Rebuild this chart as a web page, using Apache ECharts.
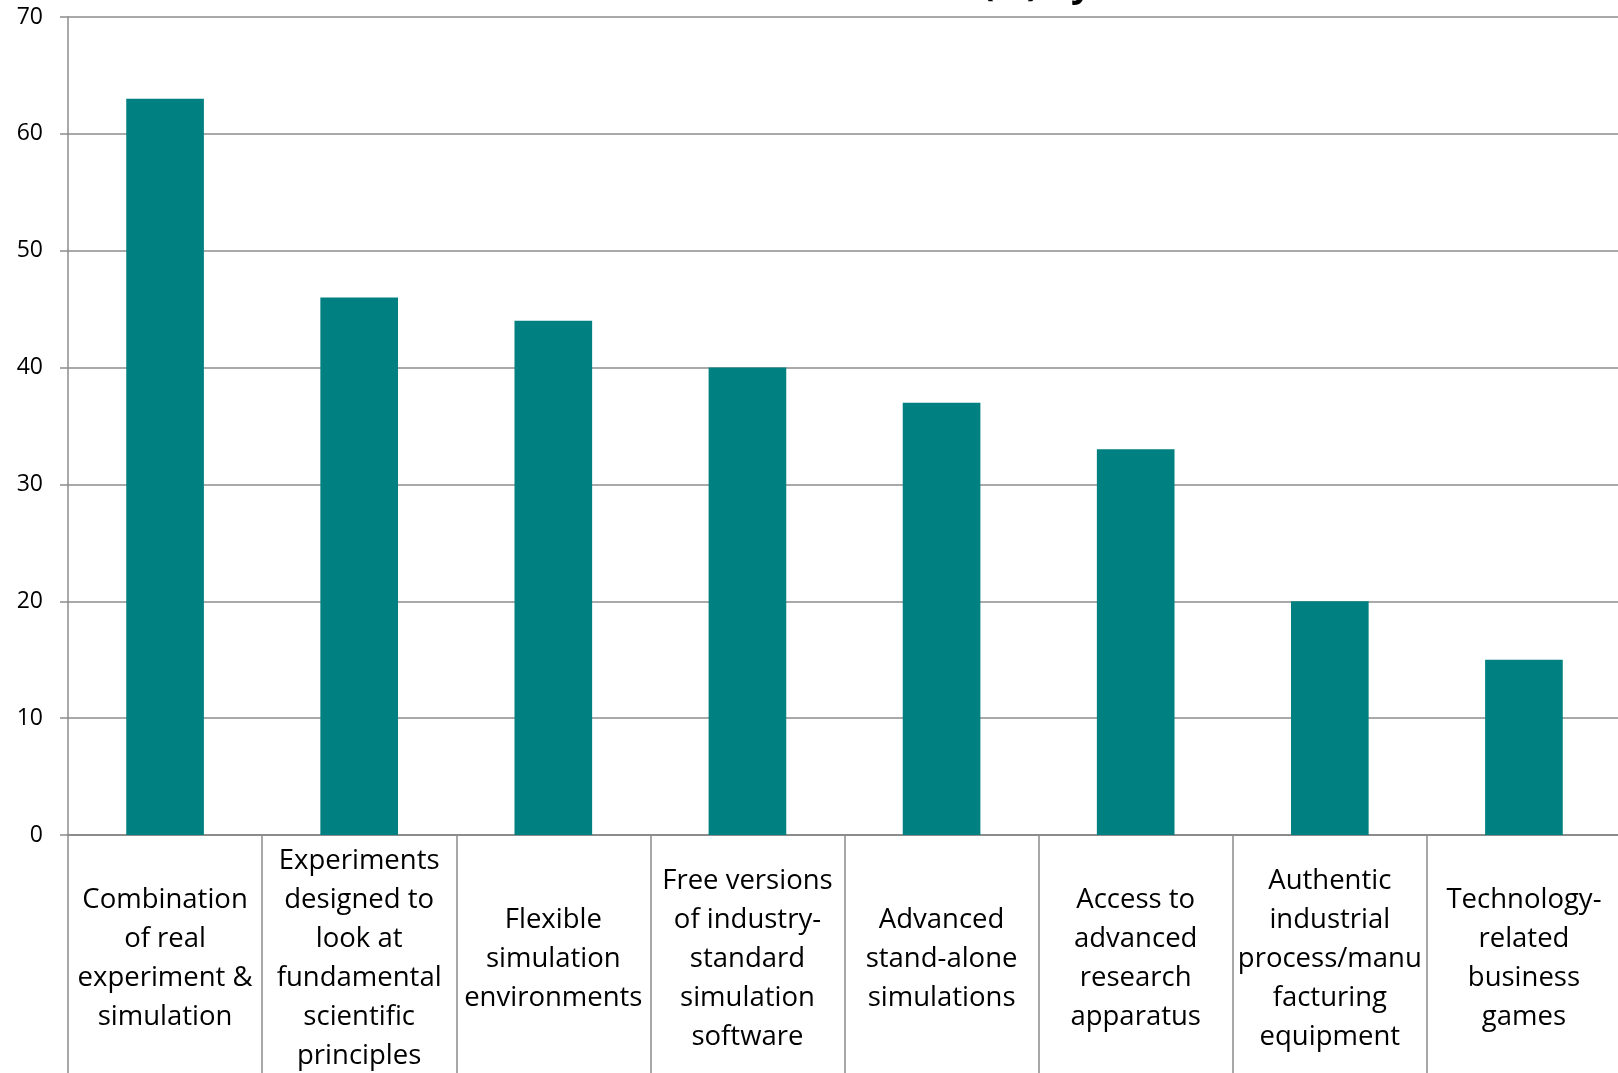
<!DOCTYPE html>
<html>
<head>
<meta charset="utf-8">
<script src="https://cdn.jsdelivr.net/npm/echarts@6/dist/echarts.min.js"></script>
<style>
html,body{margin:0;padding:0;background:#fff;}
#chart{width:1618px;height:1073px;}
</style>
</head>
<body>
<div id="chart"></div>
<script>
const titleText = "(%) by";
const categories = [
  "Combination\nof real\nexperiment &\nsimulation",
  "Experiments\ndesigned to\nlook at\nfundamental\nscientific\nprinciples",
  "Flexible\nsimulation\nenvironments",
  "Free versions\nof industry-\nstandard\nsimulation\nsoftware",
  "Advanced\nstand-alone\nsimulations",
  "Access to\nadvanced\nresearch\napparatus",
  "Authentic\nindustrial\nprocess/manu\nfacturing\nequipment",
  "Technology-\nrelated\nbusiness\ngames"
];
const values = [63, 46, 44, 40, 37, 33, 20, 15];
const yTicks = { min: 0, max: 70, interval: 10 };

const gray = '#8c8c8c';
const chart = echarts.init(document.getElementById('chart'), null, {renderer: 'canvas'});
chart.setOption({
  animation: false,
  backgroundColor: '#ffffff',
  title: {
    text: titleText,
    left: 977,
    top: -37,
    textStyle: { fontFamily: 'Open Sans', fontWeight: 'bold', fontSize: 36, color: '#000' }
  },
  grid: { left: 68, top: 17, width: 1553, height: 818, containLabel: false, outerBoundsMode: 'none' },
  xAxis: {
    type: 'category',
    data: categories,
    axisLine: { show: true, lineStyle: { color: gray, width: 2 } },
    axisTick: { show: true, interval: 0, length: 260, lineStyle: { color: gray, width: 1.5 } },
    axisLabel: {
      interval: 0,
      margin: 124,
      verticalAlign: 'middle',
      align: 'center',
      fontFamily: 'Open Sans',
      fontSize: 27.5,
      lineHeight: 39,
      color: '#000'
    },
    splitLine: { show: false }
  },
  yAxis: {
    type: 'value',
    min: yTicks.min,
    max: yTicks.max,
    interval: yTicks.interval,
    axisLine: { show: true, lineStyle: { color: gray, width: 1.5 } },
    axisTick: { show: true, length: 8, lineStyle: { color: gray, width: 1.5 } },
    axisLabel: { margin: 25, fontFamily: 'Open Sans', fontSize: 23, color: '#000' },
    splitLine: { show: true, lineStyle: { color: gray, width: 1.5 } }
  },
  series: [{
    type: 'bar',
    data: values,
    barWidth: '40%',
    itemStyle: { color: '#008080' }
  }]
});
</script>
</body>
</html>
